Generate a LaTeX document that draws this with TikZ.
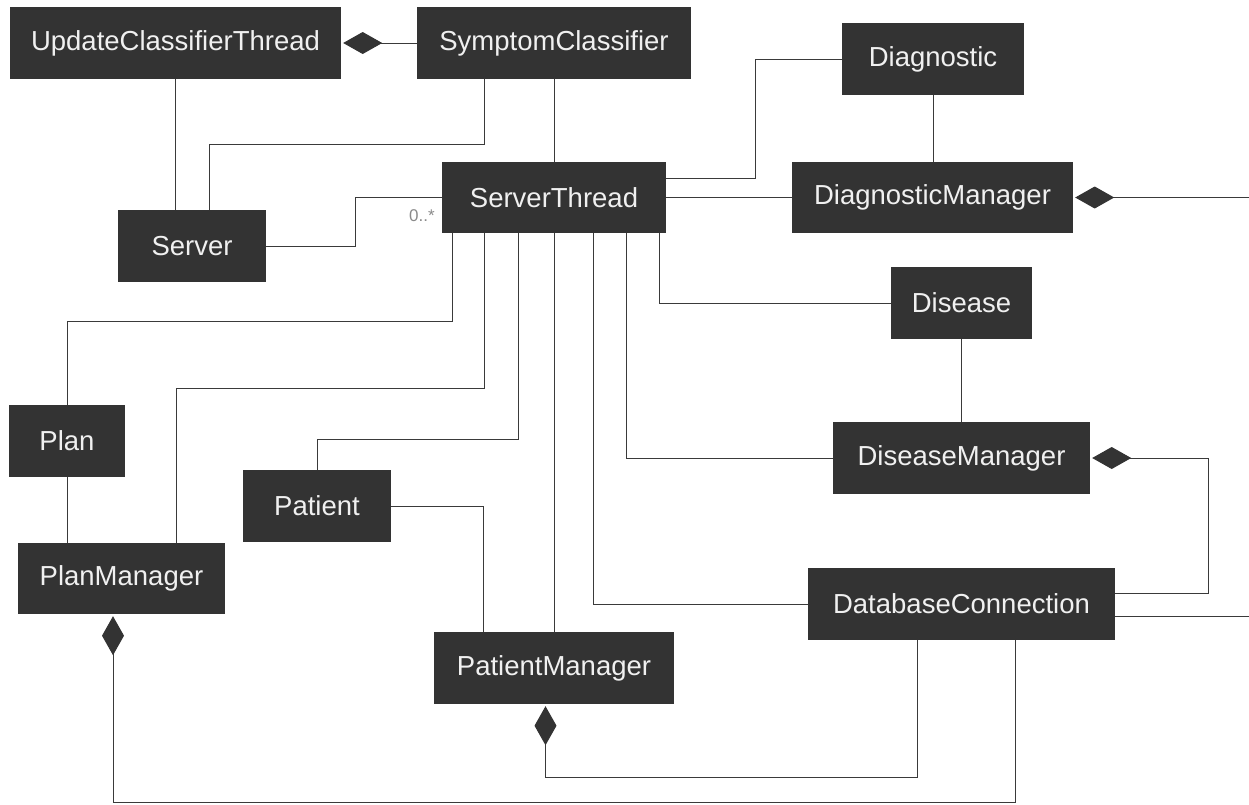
\documentclass[tikz,border=0pt]{standalone}
\usepackage{fontspec}
\setmainfont{Liberation Sans}
\usetikzlibrary{arrows.meta}
\definecolor{boxfill}{HTML}{333333}
\definecolor{linecol}{HTML}{3A3A3A}
\definecolor{labelcol}{HTML}{8A8A8A}
\begin{document}
\begin{tikzpicture}[x=1pt,y=-1pt,
  cls/.style={rectangle, fill=boxfill, text=white!94!black, inner sep=0pt,
    font=\fontsize{27.5}{30}\selectfont},
  link/.style={draw=linecol, line width=1pt},
  comp/.style={link, {Diamond[length=39pt,width=22pt,color=boxfill]}-, shorten <=2pt},
  mult/.style={text=labelcol, font=\fontsize{17}{19}\selectfont, inner sep=0pt}]
\useasboundingbox (0,0) rectangle (1249,804);

% classes
\node[cls, minimum width=331pt, minimum height=72pt] (uct)      at (175.5,43)  {UpdateClassifierThread};
\node[cls, minimum width=274pt, minimum height=72pt] (sc)       at (554,43)    {SymptomClassifier};
\node[cls, minimum width=182pt, minimum height=72pt] (diag)     at (933,59)    {Diagnostic};
\node[cls, minimum width=224pt, minimum height=71pt] (st)       at (554,197.5) {ServerThread};
\node[cls, minimum width=281pt, minimum height=71pt] (dm)       at (932.5,197.5) {DiagnosticManager};
\node[cls, minimum width=148pt, minimum height=72pt] (server)   at (192,246)   {Server};
\node[cls, minimum width=141pt, minimum height=72pt] (disease)  at (961.5,303) {Disease};
\node[cls, minimum width=116pt, minimum height=72pt] (plan)     at (67,441)    {Plan};
\node[cls, minimum width=257pt, minimum height=72pt] (diseasem) at (961.5,458) {DiseaseManager};
\node[cls, minimum width=148pt, minimum height=72pt] (patient)  at (317,506)   {Patient};
\node[cls, minimum width=207pt, minimum height=71pt] (planm)    at (121.5,578.5) {PlanManager};
\node[cls, minimum width=307pt, minimum height=72pt] (dbc)      at (961.5,604) {DatabaseConnection};
\node[cls, minimum width=240pt, minimum height=72pt] (patm)     at (554,668)   {PatientManager};

% loose ends running off the right edge
\coordinate (dmout)  at (1249,197.5);
\coordinate (dbcout) at (1249,616);

% compositions
\draw[comp] (uct.east) -- (sc.west);
\draw[comp] (dm.east) -- (dmout);
\draw[comp] (diseasem.east) -- ++(118,0) |- ([yshift=11pt]dbc.east);
\draw[comp] ([xshift=-8.5pt]planm.south) -- ++(0,188) -| ([xshift=54pt]dbc.south);
\draw[comp] ([xshift=-8.5pt]patm.south) -- ++(0,73) -| ([xshift=-44.5pt]dbc.south);

% associations
\draw[link] (uct.south) -- (uct.south |- server.north);
\draw[link] ([xshift=-70pt]sc.south) -- ++(0,65) -| ([xshift=17pt]server.north);
\draw[link] (sc.south) -- (st.north);
\draw[link] (server.east) -- ++(89,0) |- (st.west);
\node[mult] (m1) at (422,216) {0..*};
\draw[link] ([yshift=19.5pt]st.east) -- ++(89,0) |- (diag.west);
\draw[link] (diag.south) -- (diag.south |- dm.north);
\draw[link] (st.east) -- (dm.west);
\draw[link] ([xshift=105pt]st.south) |- (disease.west);
\draw[link] (disease.south) -- (diseasem.north);
\draw[link] ([xshift=72pt]st.south) |- (diseasem.west);
\draw[link] ([xshift=39pt]st.south) |- (dbc.west);
\draw[link] ([yshift=-12pt]dbc.east) -- (dbcout);
\draw[link] (st.south) -- (patm.north);
\draw[link] ([xshift=-36pt]st.south) -- ++(0,206) -| (patient.north);
\draw[link] (patient.east) -| ([xshift=-71pt]patm.north);
\draw[link] ([xshift=-70pt]st.south) -- ++(0,155) -| ([xshift=54.5pt]planm.north);
\draw[link] ([xshift=-102pt]st.south) -- ++(0,88) -| (plan.north);
\draw[link] (plan.south) -- (plan.south |- planm.north);
\end{tikzpicture}
\end{document}
